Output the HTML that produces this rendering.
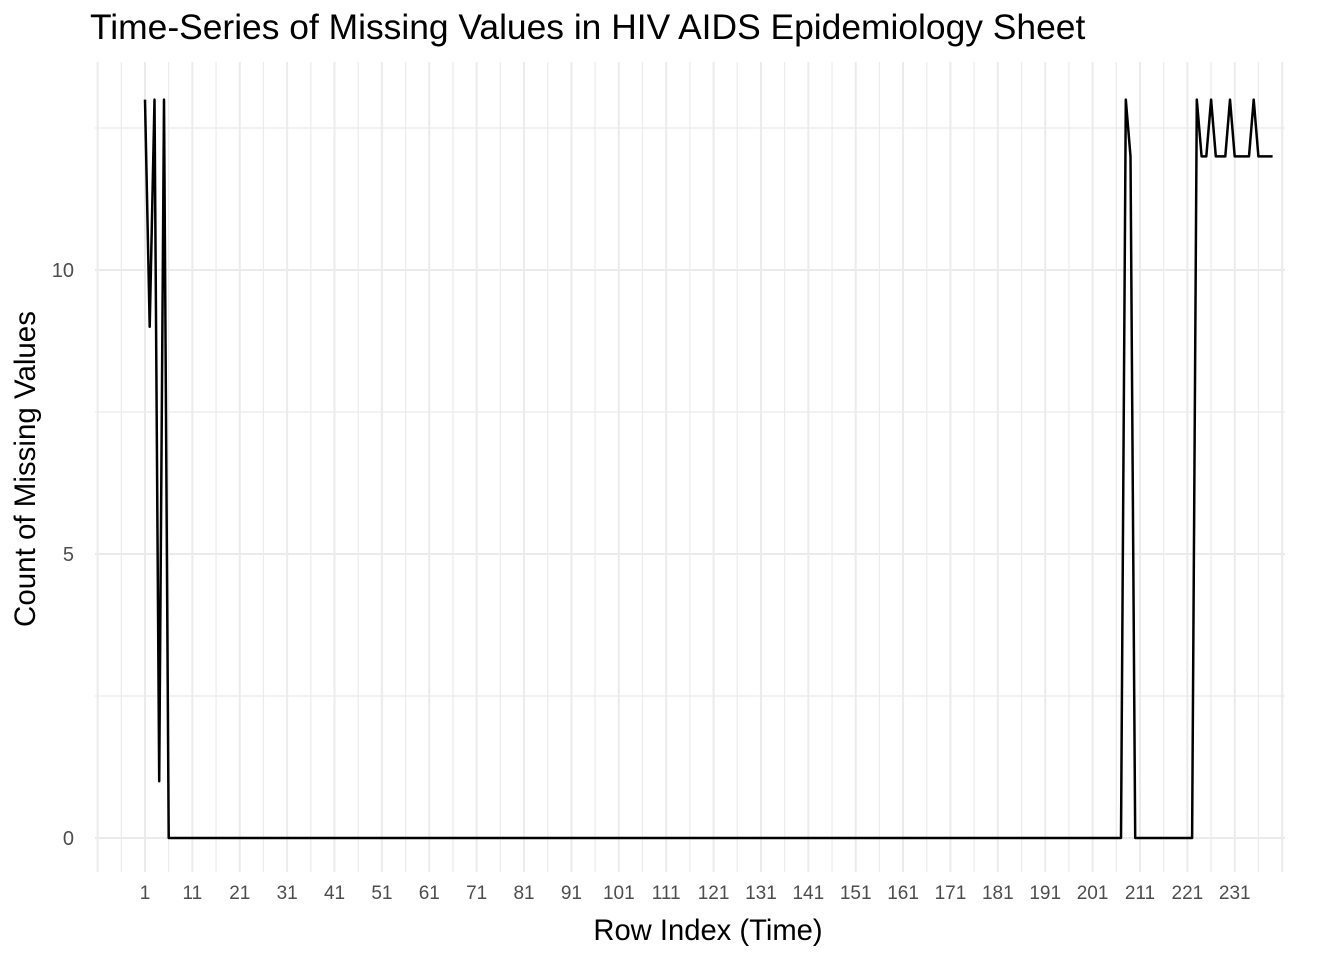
<!DOCTYPE html>
<html><head><meta charset="utf-8"><style>
body{margin:0;background:#fff;font-family:"Liberation Sans",Arial,sans-serif}
</style></head><body>
<svg width="1344" height="960" xmlns="http://www.w3.org/2000/svg">
<text x="90" y="39" font-size="35.4" fill="#000">Time-Series of Missing Values in HIV AIDS Epidemiology Sheet</text>
<g id="grid"></g>
<g id="ticks"></g>
<path id="series" fill="none" stroke="#000" stroke-width="2.5" stroke-linejoin="round"/>
<text x="708" y="940" font-size="29.2" text-anchor="middle" fill="#000">Row Index (Time)</text>
<text transform="translate(35,469) rotate(-90)" font-size="29.5" text-anchor="middle" fill="#000">Count of Missing Values</text>
</svg>
<script>
const rowIndex=[];for(let i=1;i<=239;i++)rowIndex.push(i);
const nonZero={1:13,2:9,3:13,4:1,5:13,208:13,209:12,223:13,224:12,225:12,226:13,227:12,228:12,229:12,230:13,231:12,232:12,233:12,234:12,235:13,236:12,237:12,238:12,239:12};
const missingCounts=rowIndex.map(i=>nonZero[i]||0);
const xTickLabels=[1,11,21,31,41,51,61,71,81,91,101,111,121,131,141,151,161,171,181,191,201,211,221,231];
const yTickLabels=[0,5,10];
const NS="http://www.w3.org/2000/svg";
const X=i=>145+(i-1)*4.738;
const Y=v=>838-v*56.8;
const grid=document.getElementById('grid'),ticks=document.getElementById('ticks');
function line(x1,y1,x2,y2,w,name){const l=document.createElementNS(NS,'line');
l.setAttribute('x1',x1);l.setAttribute('y1',y1);l.setAttribute('x2',x2);l.setAttribute('y2',y2);
l.setAttribute('stroke','#ebebeb');l.setAttribute('stroke-width',w);


grid.appendChild(l);}
for(let i=-9;i<=241;i+=5){line(X(i),62,X(i),872,((i-1)%10===0)?2:1.2,'x-gridline');}
for(let v=0;v<=12.5;v+=2.5){line(95,Y(v),1285,Y(v),(v%5===0)?2:1.2,'y-gridline');}
function txt(x,y,s,anchor,name,fs){const t=document.createElementNS(NS,'text');
t.setAttribute('x',x);t.setAttribute('y',y);t.setAttribute('font-size',fs);t.setAttribute('fill','#4d4d4d');t.setAttribute('text-anchor',anchor);t.textContent=s;


ticks.appendChild(t);}
xTickLabels.forEach(v=>txt(X(v),899,v,'middle','x-tick-label','19'));
yTickLabels.forEach(v=>txt(74,Y(v)+7,v,'end','y-tick-label','20'));
document.getElementById('series').setAttribute('d',rowIndex.map((i,k)=>(k?'L':'M')+X(i).toFixed(1)+','+Y(missingCounts[k]).toFixed(1)).join(''));
</script>
</body></html>
